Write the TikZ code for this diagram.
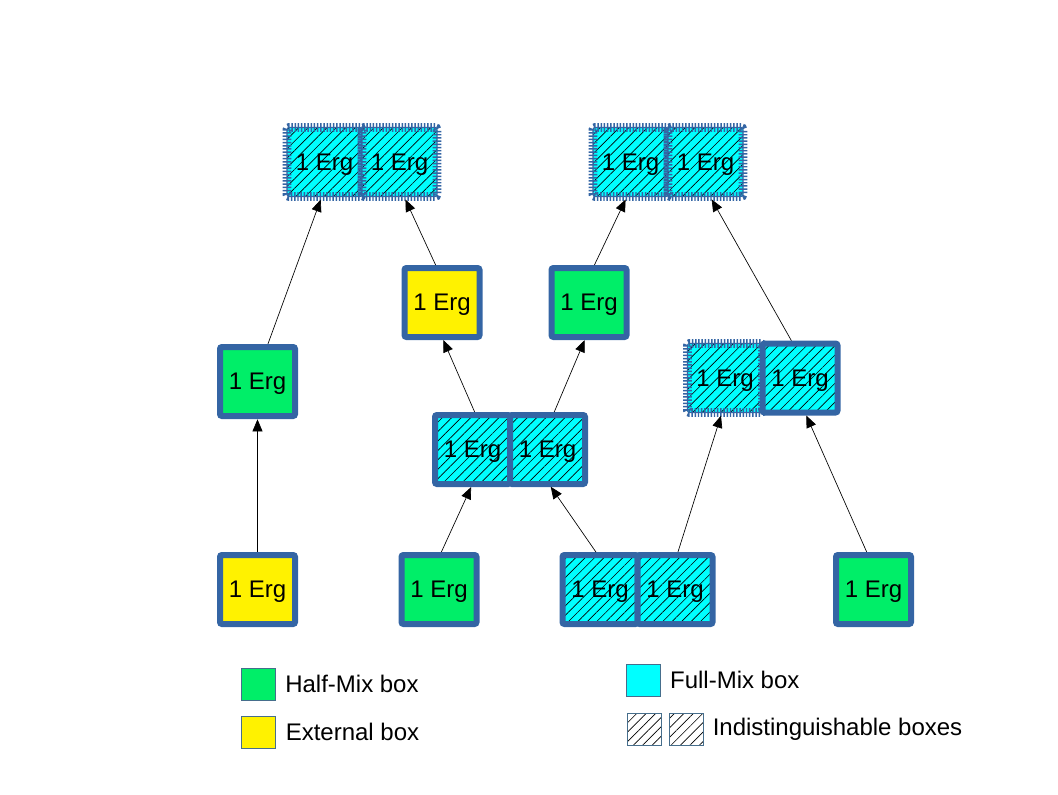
\documentclass[tikz,border=0pt]{standalone}
\usepackage{fontspec}
\setmainfont{Liberation Sans}
\usepackage{tikz}
\usetikzlibrary{arrows.meta, positioning, patterns.meta}
\definecolor{frameblue}{RGB}{52, 101, 164}
\definecolor{halfgreen}{RGB}{0, 238, 104}
\definecolor{fullcyan}{RGB}{0, 255, 255}
\definecolor{legendedge}{RGB}{70, 110, 140}

\begin{document}
\begin{tikzpicture}[
    x=0.75pt, y=-0.75pt,
    >={Triangle[length=9pt, width=7.5pt]},
    every node/.style={font=\fontsize{18pt}{21pt}\selectfont},
    erg_box/.style={
        rectangle, rounded corners=1.5pt, draw=frameblue, line width=4.5pt,
        minimum width=56.25pt, minimum height=51.75pt, inner sep=0pt, outer sep=0pt,
        text depth=0pt
    },
    half_mix/.style={erg_box, fill=halfgreen},
    ext_box/.style={erg_box, fill=yellow},
    full_mix/.style={
        erg_box, preaction={fill=fullcyan},
        pattern={Lines[angle=45, distance=5pt, line width=0.5pt]}
    },
    comb_box/.style={
        full_mix, line width=0.8pt,
        postaction={draw=frameblue, line width=6.5pt, dash pattern=on 1.1pt off 1.3pt}
    },
    link/.style={->, line width=0.5pt, draw=black, shorten >=2.5pt, shorten <=2.5pt},
    legend_sq/.style={
        rectangle, draw=legendedge, line width=0.6pt,
        minimum width=25.5pt, minimum height=24pt, inner sep=0pt, outer sep=0pt
    },
    legend_txt/.style={anchor=west, inner sep=0pt}
]
    \useasboundingbox (0,0) rectangle (1058,794);

    % Top row: indistinguishable full-mix pairs
    \node[comb_box] (tl1) at (324.5,162) {1 Erg};
    \node[comb_box, right=0pt of tl1] (tl2) {1 Erg};
    \node[comb_box] (tr1) at (630.5,162) {1 Erg};
    \node[comb_box, right=0pt of tr1] (tr2) {1 Erg};

    % Upper middle row
    \node[ext_box] (ym) at (442,302.5) {1 Erg};
    \node[half_mix] (gm) at (589,302.5) {1 Erg};

    % Middle row
    \node[half_mix] (gl) at (257.5,381.5) {1 Erg};
    \node[comb_box] (rp1) at (725,378) {1 Erg};
    \node[full_mix, right=0pt of rp1] (rp2) {1 Erg};

    % Lower middle row
    \node[full_mix] (mp1) at (472.5,449.5) {1 Erg};
    \node[full_mix, right=0pt of mp1] (mp2) {1 Erg};

    % Bottom row
    \node[ext_box] (yb) at (257.5,589.5) {1 Erg};
    \node[half_mix] (gb) at (439,589.5) {1 Erg};
    \node[full_mix] (bp1) at (600,589.5) {1 Erg};
    \node[full_mix, right=0pt of bp1] (bp2) {1 Erg};
    \node[half_mix] (gr) at (873.5,589.5) {1 Erg};

    % --- Links ---
    \draw[link] (yb.north) -- (gl.south);
    \draw[link] ([xshift=7pt]gl.north) -- ([xshift=-2pt]tl1.south);
    \draw[link] ([xshift=-3.75pt]ym.north) -- ([xshift=3.4pt]tl2.south);
    \draw[link] ([xshift=0.75pt]gb.north) -- (mp1.south);
    \draw[link] ([xshift=-1.5pt]bp1.north) -- ([xshift=1pt]mp2.south);
    \draw[link] ([xshift=2.6pt]mp1.north) -- (ym.south);
    \draw[link] ([xshift=4.1pt]mp2.north) -- ([xshift=-2.25pt]gm.south);
    \draw[link] ([xshift=3pt]gm.north) -- ([xshift=-2.6pt]tr1.south);
    \draw[link] ([xshift=1.5pt]bp2.north) -- ([xshift=-2.25pt]rp1.south);
    \draw[link] ([xshift=-4.1pt]gr.north) -- ([xshift=3.75pt]rp2.south);
    \draw[link] ([xshift=-5.25pt]rp2.north) -- ([xshift=3.4pt]tr2.south);

    % --- Legend ---
    \node[legend_sq, fill=halfgreen] (lg_half) at (258,684) {};
    \node[legend_txt, right=7.5pt of lg_half] (lt_half) {Half-Mix box};
    \node[legend_sq, fill=yellow] (lg_ext) at (258.5,732) {};
    \node[legend_txt, right=7.5pt of lg_ext] (lt_ext) {External box};
    \node[legend_sq, fill=fullcyan] (lg_full) at (643.5,680) {};
    \node[legend_txt, right=7pt of lg_full] (lt_full) {Full-Mix box};
    \node[legend_sq, pattern={Lines[angle=45, distance=5pt, line width=0.5pt]}] (lg_ind1) at (644.5,729) {};
    \node[legend_sq, pattern={Lines[angle=45, distance=5pt, line width=0.5pt]}] (lg_ind2) at (686.5,729) {};
    \node[legend_txt, right=6.75pt of lg_ind2] (lt_ind) {Indistinguishable boxes};

\end{tikzpicture}
\end{document}
